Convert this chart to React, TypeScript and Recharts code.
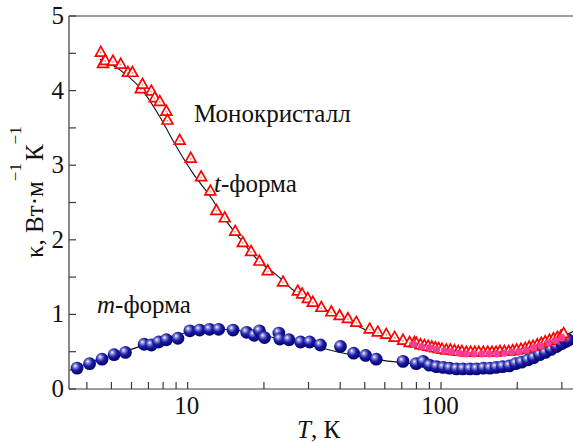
import React from 'react';
import { ComposedChart, Scatter, Line, XAxis, YAxis, ReferenceLine } from 'recharts';

// t-форма (монокристалл), открытые треугольники
const RED_T = [4.54, 4.63, 4.73, 5.07, 5.44, 5.81, 6.05, 6.53, 6.63, 7.19, 7.41, 7.76, 8.24, 8.32, 9.3, 10.28, 11.3, 12.29, 12.98, 14.0, 15.4, 16.5, 17.8, 19.2, 20.7, 23.8, 27.2, 28.3, 29.8, 31.2, 33.7, 36.9, 39.8, 42.9, 46.3, 52.3, 56.3, 60.8, 65.6, 70.8, 75.2, 78.6,
  80, 83, 86, 89, 92, 95, 98, 101, 105, 109, 113, 117, 121, 126, 131, 136, 141, 147, 153, 159, 165, 171, 178, 185, 192, 199, 207, 215, 223, 231, 240, 249, 258, 268, 278, 288, 298, 305];
const RED_K = [4.52, 4.37, 4.41, 4.4, 4.36, 4.25, 4.25, 4.03, 4.09, 4.0, 3.91, 3.86, 3.73, 3.61, 3.34, 3.1, 2.85, 2.66, 2.4, 2.3, 2.12, 1.97, 1.85, 1.72, 1.59, 1.44, 1.32, 1.28, 1.22, 1.17, 1.1, 1.04, 0.99, 0.95, 0.9, 0.81, 0.77, 0.74, 0.7, 0.66, 0.63, 0.63,
  0.62, 0.6, 0.59, 0.58, 0.57, 0.56, 0.55, 0.54, 0.53, 0.53, 0.52, 0.51, 0.51, 0.5, 0.5, 0.5, 0.5, 0.5, 0.5, 0.5, 0.5, 0.51, 0.51, 0.51, 0.52, 0.53, 0.54, 0.55, 0.57, 0.58, 0.6, 0.62, 0.64, 0.66, 0.68, 0.7, 0.72, 0.75];

// розовые точки под треугольниками
const PINK_T = [78, 84, 90, 96, 103, 110, 118, 126, 135, 145, 155, 166, 178, 190, 203, 217, 232, 248, 265, 283, 300];
const PINK_K = [0.6, 0.57, 0.55, 0.53, 0.51, 0.5, 0.48, 0.47, 0.47, 0.47, 0.47, 0.47, 0.48, 0.49, 0.5, 0.52, 0.55, 0.58, 0.62, 0.65, 0.69];

// m-форма, шарики
const BLUE_T = [3.66, 4.1, 4.59, 5.12, 5.68, 6.73, 7.19, 7.68, 8.24, 9.15, 10.2, 11.15, 12.2, 13.25, 15.1, 17.1, 18.3, 19.2, 20.1, 22.9, 23.1, 25.1, 27.9, 30.3, 33.4, 40.1, 45.2, 50.4, 55.5, 70.8, 79.8, 85,
  90, 96, 102, 108, 115, 122, 130, 138, 147, 156, 165, 175, 186, 197, 208, 220, 232, 245, 258, 272, 286, 300, 312, 318];
const BLUE_K = [0.28, 0.34, 0.4, 0.46, 0.49, 0.6, 0.59, 0.63, 0.66, 0.68, 0.78, 0.79, 0.8, 0.8, 0.79, 0.76, 0.72, 0.78, 0.69, 0.75, 0.67, 0.66, 0.63, 0.63, 0.59, 0.57, 0.48, 0.45, 0.4, 0.37, 0.34, 0.37,
  0.32, 0.3, 0.29, 0.28, 0.27, 0.27, 0.27, 0.27, 0.28, 0.28, 0.29, 0.3, 0.31, 0.34, 0.36, 0.39, 0.42, 0.46, 0.49, 0.53, 0.57, 0.61, 0.64, 0.66];

// аппроксимации
const FIT_RED_T = [4.5, 5.0, 5.73, 6.67, 7.76, 9.02, 10.5, 12.4, 14.0, 16.5, 19, 22.4, 26, 29.8, 37.5, 50.6, 68.8, 93, 126, 171, 232, 280, 332];
const FIT_RED_K = [4.42, 4.35, 4.21, 3.99, 3.65, 3.25, 2.89, 2.56, 2.28, 1.97, 1.72, 1.53, 1.33, 1.19, 1.01, 0.79, 0.63, 0.52, 0.46, 0.46, 0.55, 0.65, 0.77];
const FIT_BLUE_T = [3.42, 4.23, 5.73, 7.76, 10.5, 13.4, 17.0, 22.4, 29.8, 40, 57, 80, 100, 126, 171, 232, 280, 332];
const FIT_BLUE_K = [0.25, 0.37, 0.51, 0.66, 0.77, 0.8, 0.77, 0.68, 0.59, 0.49, 0.39, 0.33, 0.28, 0.26, 0.28, 0.38, 0.48, 0.6];

const X_TICKS = [4, 5, 6, 7, 8, 9, 10, 20, 30, 40, 50, 60, 70, 80, 90, 100, 200, 300];
const X_LABELS = [10, 100];
const Y_TICKS = [0, 0.5, 1, 1.5, 2, 2.5, 3, 3.5, 4, 4.5, 5];
const Y_LABELS = [0, 1, 2, 3, 4, 5];

const zip = (ts: number[], ks: number[]) => ts.map((T, i) => ({ T, k: ks[i] }));

const FONT = "'Liberation Serif', 'Times New Roman', Tinos, 'DejaVu Serif', 'Noto Serif', FreeSerif, Times, serif";
const AXIS = '#3a3a3a';
const txt: React.CSSProperties = { fontFamily: FONT };

const Tri = (p: any) => {
  const { cx, cy } = p;
  if (cx == null || cy == null) return null;
  const s = 5.4;
  return (
    <g>
      <polygon
        points={`${cx},${cy - s} ${cx + s},${cy + s * 0.8} ${cx - s},${cy + s * 0.8}`}
        fill="#fff"
        stroke="#ff0000"
        strokeWidth={1.7}
      />
      <circle cx={cx} cy={cy + 1} r={1} fill="#ff9090" />
    </g>
  );
};

const Pink = (p: any) => {
  const { cx, cy } = p;
  if (cx == null || cy == null) return null;
  return (
    <g>
      <circle cx={cx} cy={cy} r={3.6} fill="#ff3d8e" />
      <circle cx={cx} cy={cy} r={1} fill="#b050e0" />
    </g>
  );
};

const Ball = (p: any) => {
  const { cx, cy } = p;
  if (cx == null || cy == null) return null;
  return <circle cx={cx} cy={cy} r={6.4} fill="url(#ball)" />;
};

const XTick = (p: any) => {
  const { x, y, payload } = p;
  const v = payload.value;
  return (
    <g>
      <line x1={x} x2={x} y1={y} y2={y - 7} stroke={AXIS} strokeWidth={1.2} />
      {X_LABELS.includes(v) && (
        <text x={x - 1} y={y + 25} textAnchor="middle" style={txt} fontSize={25} fill="#111">
          {v}
        </text>
      )}
    </g>
  );
};

const YTick = (p: any) => {
  const { x, y, payload } = p;
  const v = payload.value;
  return (
    <g>
      <line x1={x} x2={x + 7} y1={y} y2={y} stroke={AXIS} strokeWidth={1.2} />
      {Y_LABELS.includes(v) && (
        <text x={x - 5} y={y + 8} textAnchor="end" style={txt} fontSize={25} fill="#111">
          {v}
        </text>
      )}
    </g>
  );
};

export default function App() {
  const red = zip(RED_T, RED_K);
  const pink = zip(PINK_T, PINK_K);
  const blue = zip(BLUE_T, BLUE_K);
  const fitRed = zip(FIT_RED_T, FIT_RED_K);
  const fitBlue = zip(FIT_BLUE_T, FIT_BLUE_K);

  return (
    <div style={{ position: 'absolute', left: 0, top: 0, width: 574, height: 446, background: '#fff' }}>
      <svg width={0} height={0} style={{ position: 'absolute' }}>
        <defs>
          <radialGradient id="ball" cx="40%" cy="38%" r="62%" fx="35%" fy="32%">
            <stop offset="0%" stopColor="#ffffff" />
            <stop offset="22%" stopColor="#8a8ad8" />
            <stop offset="55%" stopColor="#1c1ca6" />
            <stop offset="100%" stopColor="#00006e" />
          </radialGradient>
        </defs>
      </svg>
      <ComposedChart width={574} height={446} margin={{ top: 16, right: 1, bottom: 7, left: 9 }}>
        <XAxis
          dataKey="T"
          type="number"
          scale="log"
          domain={[3.4, 332]}
          allowDataOverflow
          ticks={X_TICKS}
          interval={0}
          tick={<XTick />}
          tickLine={false}
          tickSize={0}
          tickMargin={0}
          height={50}
          stroke={AXIS}
          strokeWidth={1.2}
        />
        <YAxis
          dataKey="k"
          type="number"
          domain={[0, 5]}
          allowDataOverflow
          ticks={Y_TICKS}
          interval={0}
          tick={<YTick />}
          tickLine={false}
          tickSize={0}
          tickMargin={0}
          width={60}
          stroke={AXIS}
          strokeWidth={1.2}
        />
        <ReferenceLine y={5} stroke={AXIS} strokeWidth={1.2} />
        <Scatter data={blue} dataKey="k" shape={<Ball />} isAnimationActive={false} />
        <Scatter data={red} dataKey="k" shape={<Tri />} isAnimationActive={false} />
        <Scatter data={pink} dataKey="k" shape={<Pink />} isAnimationActive={false} />
        <Line data={fitBlue} dataKey="k" type="monotone" stroke="#111" strokeWidth={1.1} dot={false} isAnimationActive={false} />
        <Line data={fitRed} dataKey="k" type="monotone" stroke="#111" strokeWidth={1.1} dot={false} isAnimationActive={false} />
      </ComposedChart>
      <svg
        width={574}
        height={446}
        style={{ position: 'absolute', left: 0, top: 0, pointerEvents: 'none', fontFamily: FONT }}
        fill="#111"
      >
        <text x={194} y={122} fontSize={25}>Монокристалл</text>
        <text x={214} y={192} fontSize={25}>
          <tspan fontStyle="italic">t</tspan>-форма
        </text>
        <text x={97} y={313} fontSize={25}>
          <tspan fontStyle="italic">m</tspan>-форма
        </text>
        <text x={297} y={438} fontSize={25}>
          <tspan fontStyle="italic">T</tspan>, К
        </text>
        <text transform="rotate(-90)" x={-258} y={43} fontSize={25}>
          κ, Вт·м
          <tspan fontSize={17} dy={-22}>−1</tspan>
          <tspan fontSize={25} dy={22} dx={2}>К</tspan>
          <tspan fontSize={17} dy={-22}>−1</tspan>
        </text>
      </svg>
    </div>
  );
}
